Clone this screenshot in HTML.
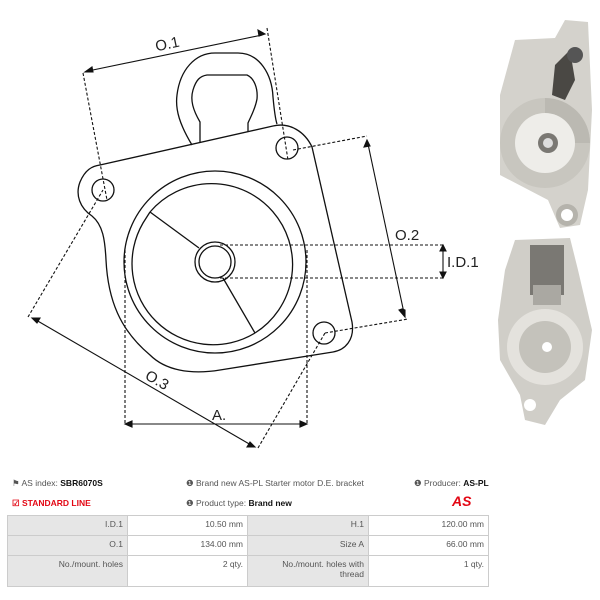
<!DOCTYPE html>
<html><head><meta charset="utf-8"><style>
body{margin:0;width:600px;height:600px;background:#fff;font-family:"Liberation Sans",sans-serif;position:relative;overflow:hidden}
.t{position:absolute;font-size:8.5px;color:#555;white-space:nowrap}
b{color:#111}
table{position:absolute;left:7px;top:515px;width:481px;border-collapse:collapse;font-size:8.5px;color:#555;table-layout:fixed}
td{border:1px solid #ccc;text-align:right;padding:3px 4px;vertical-align:top;height:13px}
td.g{background:#e6e6e6}
</style></head><body>
<svg width="600" height="460" style="position:absolute;left:0;top:0" fill="none" stroke="#111" stroke-width="1.3">
<path d="M192,145 C180,125 175,110 177,95 C180,70 195,53 215,53 L238,53 C260,53 272,75 273,97 C274,108 275,118 277,124"/>
<path d="M200,143 L200,122 C193,110 190,100 193,90 C196,80 200,76 207,75 L247,75 C254,78 258,88 257,99 C255,110 250,118 248,123 L248,132"/>
<path d="M100,165 L273,126 C290,122 305,132 312,147 L352,322 C355,340 345,350 333,352 L220,370 C190,375 165,370 150,355 C120,330 108,300 106,260 C105,240 103,225 92,216 C80,208 75,195 80,182 C85,170 92,166 100,165 Z"/>
<circle cx="103" cy="190" r="11"/><circle cx="287" cy="148" r="11"/><circle cx="324" cy="333" r="11"/>
<circle cx="215" cy="262" r="91"/>
<path d="M150,212 A81,81 0 1 1 255,333" />
<path d="M150,212 L143,223 A81,81 0 0 0 255,333"/>
<line x1="150" y1="212" x2="199" y2="248"/>
<line x1="223" y1="278" x2="255" y2="333"/>
<circle cx="215" cy="262" r="20"/><circle cx="215" cy="262" r="16"/>
<g stroke-dasharray="3,2" stroke-width="1.1">
<line x1="83" y1="73" x2="107" y2="200"/><line x1="267" y1="28" x2="288" y2="160"/>
<line x1="293" y1="150" x2="367" y2="136"/><line x1="325" y1="333" x2="408" y2="319"/>
<line x1="220" y1="245" x2="443" y2="245"/><line x1="220" y1="278" x2="443" y2="278"/>
<line x1="28" y1="317" x2="103" y2="190"/><line x1="258" y1="448" x2="325" y2="333"/>
<line x1="125" y1="250" x2="125" y2="425"/><line x1="307" y1="250" x2="307" y2="425"/>
</g>
<g fill="#111" stroke-width="1.1">
<line x1="88" y1="71" x2="262" y2="35"/><path d="M85,72 l7,-5 l1,5z M265,34 l-7,-4 l1,6z"/>
<line x1="368" y1="144" x2="404" y2="313"/><path d="M367,140 l-3,7 l6,-1z M405,317 l-6,-7 l3,-1 l3,1z"/>
<line x1="443" y1="249" x2="443" y2="274"/><path d="M443,245 l-3,6 h6z M443,278 l-3,-6 h6z"/>
<line x1="36" y1="320" x2="251" y2="445"/><path d="M32,318 l8,0 l-3,5z M255,447 l-8,0 l3,-5z"/>
<line x1="129" y1="424" x2="303" y2="424"/><path d="M125,424 l7,-3 v6z M307,424 l-7,-3 v6z"/>
</g>
<g fill="#222" stroke="none" font-size="15" font-family="'Liberation Sans',sans-serif">
<text x="155" y="49" transform="rotate(-12 167 43)">O.1</text>
<text x="395" y="240">O.2</text>
<text x="447" y="267">I.D.1</text>
<text x="145" y="385" transform="rotate(30 157 380)">O.3</text>
<text x="212" y="420">A.</text>
</g>
<g stroke="none">
<path d="M500,95 L515,40 L555,38 L565,20 L588,22 L592,110 L588,190 L580,225 L560,228 L548,200 L500,175 Z" fill="#d4d2cc"/>
<circle cx="545" cy="143" r="45" fill="#c8c6bf"/>
<path d="M545,98 A45,45 0 0 1 590,143 L545,143 Z" fill="#bbb9b2"/>
<circle cx="545" cy="143" r="30" fill="#eeede9"/>
<circle cx="548" cy="143" r="10" fill="#7a7873"/><circle cx="548" cy="143" r="5" fill="#ddd"/>
<path d="M555,65 L570,50 L575,80 L565,100 L552,95 Z" fill="#4a4844"/>
<circle cx="575" cy="55" r="8" fill="#555"/>
<circle cx="567" cy="215" r="11" fill="#b5b3ac"/><circle cx="567" cy="215" r="6" fill="#fff"/>
<path d="M505,270 L515,240 L570,238 L578,270 L592,330 L585,380 L560,400 L545,425 L525,420 L520,395 L500,360 L498,320 Z" fill="#d0cec8"/>
<rect x="530" y="245" width="34" height="50" fill="#7a7873"/>
<rect x="533" y="285" width="28" height="20" fill="#aaa8a2"/>
<circle cx="545" cy="347" r="38" fill="#e4e2dd"/>
<circle cx="545" cy="347" r="26" fill="#c4c2bb"/>
<circle cx="547" cy="347" r="5" fill="#fff"/>
<circle cx="530" cy="405" r="6" fill="#fff"/>
</g>
</svg>
<div class="t" style="left:12px;top:478px">&#9873; AS index: <b>SBR6070S</b></div>
<div class="t" style="left:12px;top:498px;color:#e30613;font-weight:bold">&#9745; STANDARD LINE</div>
<div class="t" style="left:186px;top:478px">&#10102; Brand new AS-PL Starter motor D.E. bracket</div>
<div class="t" style="left:186px;top:498px">&#10102; Product type: <b>Brand new</b></div>
<div class="t" style="left:414px;top:478px">&#10102; Producer: <b>AS-PL</b></div>
<div class="t" style="left:452px;top:493px;color:#e30613;font-weight:bold;font-style:italic;font-size:14px">AS</div>
<table>
<colgroup><col style="width:120px"><col style="width:120px"><col style="width:121px"><col style="width:120px"></colgroup>
<tr><td class="g">I.D.1</td><td>10.50 mm</td><td class="g">H.1</td><td>120.00 mm</td></tr>
<tr><td class="g">O.1</td><td>134.00 mm</td><td class="g">Size A</td><td>66.00 mm</td></tr>
<tr><td class="g" style="height:24px">No./mount. holes</td><td>2 qty.</td><td class="g">No./mount. holes with<br>thread</td><td>1 qty.</td></tr>
</table>
</body></html>
